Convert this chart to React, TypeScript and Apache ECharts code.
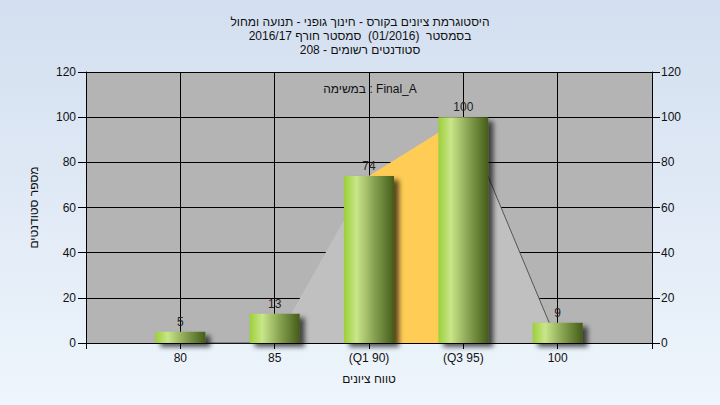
import React, { useEffect, useRef } from "react";
import * as echarts from "echarts";

const titleLines = [
  "היסטוגרמת ציונים בקורס - חינוך גופני - תנועה ומחול",
  "\u202Bבסמסטר  (01/2016)  סמסטר חורף 2016/17\u202C",
  "\u202Bסטודנטים רשומים - 208\u202C",
];
const taskLabel = "במשימה : Final_A";
const yAxisName = "מספר סטודנטים";
const xAxisName = "טווח ציונים";

const grades = [80, 85, 90, 95, 100];
const gradeLabels = ["80", "85", "(Q1 90)", "(Q3 95)", "100"];
const counts = [5, 13, 74, 100, 9];
const boxShape = [0, 0, 74, 100, 0];
const quartileBand = [null, null, 74, 100, null];
const outline = [0, 0, null, 100, 0];
const yTicks = [0, 20, 40, 60, 80, 100, 120];

export default function App() {
  const ref = useRef<HTMLDivElement>(null);
  useEffect(() => {
    if (!ref.current) return;
    const chart = echarts.init(ref.current, null, { renderer: "svg" });
    const labelMap: Record<number, string> = {};
    grades.forEach((g, i) => (labelMap[g] = gradeLabels[i]));
    const pairs = (arr: (number | null)[]) =>
      grades.map((g, i) => [g, arr[i]]).filter((p) => p[1] !== null);
    const font = "'Liberation Sans', Arial, sans-serif";
    const axisLabel = { color: "#111", fontSize: 12, fontFamily: font };
    const yMin = yTicks[0];
    const yMax = yTicks[yTicks.length - 1];
    const yInterval = yTicks[1] - yTicks[0];
    chart.setOption({
      animation: false,
      backgroundColor: {
        type: "linear", x: 0, y: 0, x2: 0, y2: 1,
        colorStops: [
          { offset: 0, color: "#d3dff0" },
          { offset: 1, color: "#eef5fc" },
        ],
      },
      title: [
        {
          text: titleLines.join("\n"),
          left: "center",
          top: 10,
          textStyle: { fontSize: 12, fontWeight: "normal", color: "#111", fontFamily: font, lineHeight: 14 },
        },
        {
          text: taskLabel,
          left: 365,
          textAlign: "center",
          top: 78,
          textStyle: { fontSize: 12, fontWeight: "normal", color: "#111", fontFamily: font },
        },
      ],
      grid: { left: 86, right: 68, top: 72, bottom: 62, show: true, backgroundColor: "#b4b4b4", borderWidth: 0 },
      xAxis: {
        type: "value",
        min: 75,
        max: 105,
        interval: 5,
        name: xAxisName,
        nameLocation: "middle",
        nameGap: 30,
        nameTextStyle: { color: "#111", fontSize: 12, fontFamily: font },
        axisLine: { lineStyle: { color: "#000" } },
        axisTick: { show: true, length: 6, lineStyle: { color: "#000" } },
        axisLabel: { ...axisLabel, margin: 9, formatter: (v: number) => labelMap[v] ?? "" },
        splitLine: { show: true, lineStyle: { color: "#000", width: 1 } },
      },
      yAxis: [
        {
          type: "value",
          min: yMin,
          max: yMax,
          interval: yInterval,
          name: yAxisName,
          nameLocation: "middle",
          nameGap: 46,
          nameTextStyle: { color: "#111", fontSize: 12, fontFamily: font },
          axisLine: { show: true, lineStyle: { color: "#000" } },
          axisTick: { show: true, length: 8, lineStyle: { color: "#000" } },
          axisLabel: { ...axisLabel, margin: 10 },
          splitLine: { show: true, lineStyle: { color: "#000", width: 1 } },
        },
        {
          type: "value",
          min: yMin,
          max: yMax,
          interval: yInterval,
          position: "right",
          axisLine: { show: true, lineStyle: { color: "#000" } },
          axisTick: { show: true, length: 8, lineStyle: { color: "#000" } },
          axisLabel: { ...axisLabel, margin: 9 },
          splitLine: { show: false },
        },
      ],
      series: [
        {
          type: "line",
          data: pairs(boxShape),
          showSymbol: false,
          lineStyle: { width: 0 },
          areaStyle: { color: "#c0c0c0", opacity: 1 },
          z: 1,
          silent: true,
        },
        {
          type: "line",
          data: pairs(quartileBand),
          showSymbol: false,
          lineStyle: { width: 0 },
          areaStyle: { color: "#ffcc55", opacity: 1 },
          z: 1,
          silent: true,
        },
        {
          type: "line",
          data: grades.map((g, i) => [g, outline[i]]),
          connectNulls: false,
          showSymbol: false,
          lineStyle: { width: 1, color: "#555" },
          z: 1,
          silent: true,
        },
        {
          type: "bar",
          data: grades.map((g, i) => [g, counts[i]]),
          barWidth: 50,
          z: 3,
          itemStyle: {
            color: {
              type: "linear", x: 0, y: 0, x2: 1, y2: 0,
              colorStops: [
                { offset: 0, color: "#9ccf38" },
                { offset: 0.25, color: "#c9e68a" },
                { offset: 0.6, color: "#87a352" },
                { offset: 1, color: "#455c18" },
              ],
            },
            shadowColor: "rgba(0,0,0,0.65)",
            shadowBlur: 5,
            shadowOffsetX: 5,
            shadowOffsetY: 4,
          },
          label: {
            show: true,
            position: "top",
            distance: 4,
            color: "#222",
            fontSize: 12,
            fontFamily: font,
          },
        },
      ],
    });
    return () => chart.dispose();
  }, []);
  return <div ref={ref} style={{ width: 720, height: 405, position: "absolute", left: 0, top: 0 }} />;
}
